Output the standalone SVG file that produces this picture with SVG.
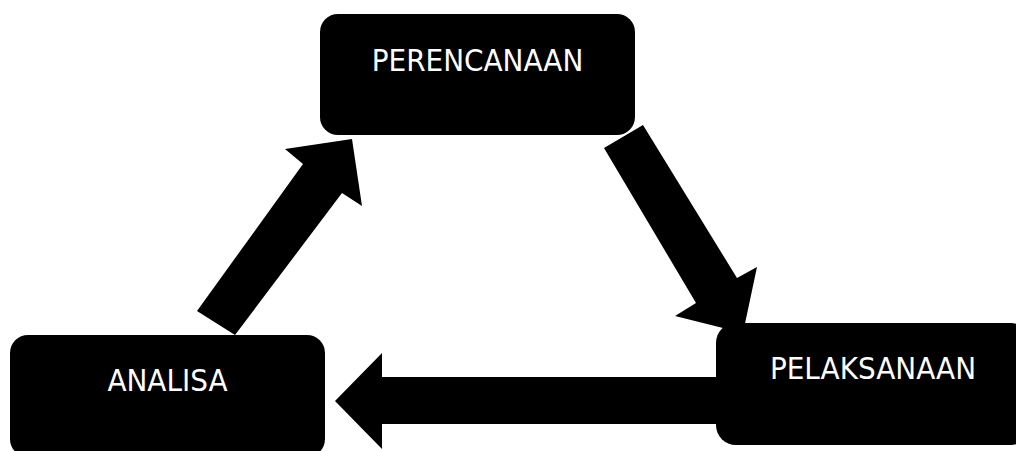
<svg xmlns="http://www.w3.org/2000/svg" width="1016" height="451" viewBox="0 0 1016 451">
  <style>
    .box { fill: #000; }
    .arrow { fill: #000; }
    .label { fill: #fff; font-family: "DejaVu Sans Condensed", "DejaVu Sans", sans-serif; font-stretch: condensed; font-size: 31px; text-anchor: middle; }
  </style>
  <rect width="1016" height="451" fill="#fff"/>

  <!-- block arrows of the cycle, drawn beneath the boxes -->
  <g id="connectors">
    <!-- ANALISA to PERENCANAAN -->
    <polygon class="arrow" points="197,311 303,164 285,149 352,139 362,206 342,193 235,335"/>
    <!-- PERENCANAAN to PELAKSANAAN -->
    <polygon class="arrow" points="604,148 643,125 737,278 757,267 743,333 675,316 696,303"/>
    <!-- PELAKSANAAN to ANALISA -->
    <polygon class="arrow" points="740,377 382,377 382,353 335,401 382,449 382,424 740,424"/>
  </g>

  <g id="node-perencanaan">
    <rect class="box" x="320" y="14" width="315" height="121" rx="18" ry="18"/>
    <text class="label" x="477.5" y="71">PERENCANAAN</text>
  </g>

  <g id="node-pelaksanaan">
    <rect class="box" x="716" y="323" width="315" height="122" rx="20" ry="20"/>
    <text class="label" x="873" y="379">PELAKSANAAN</text>
  </g>

  <g id="node-analisa">
    <rect class="box" x="10" y="335" width="315" height="122" rx="18" ry="18"/>
    <text class="label" x="167.5" y="391">ANALISA</text>
  </g>
</svg>
